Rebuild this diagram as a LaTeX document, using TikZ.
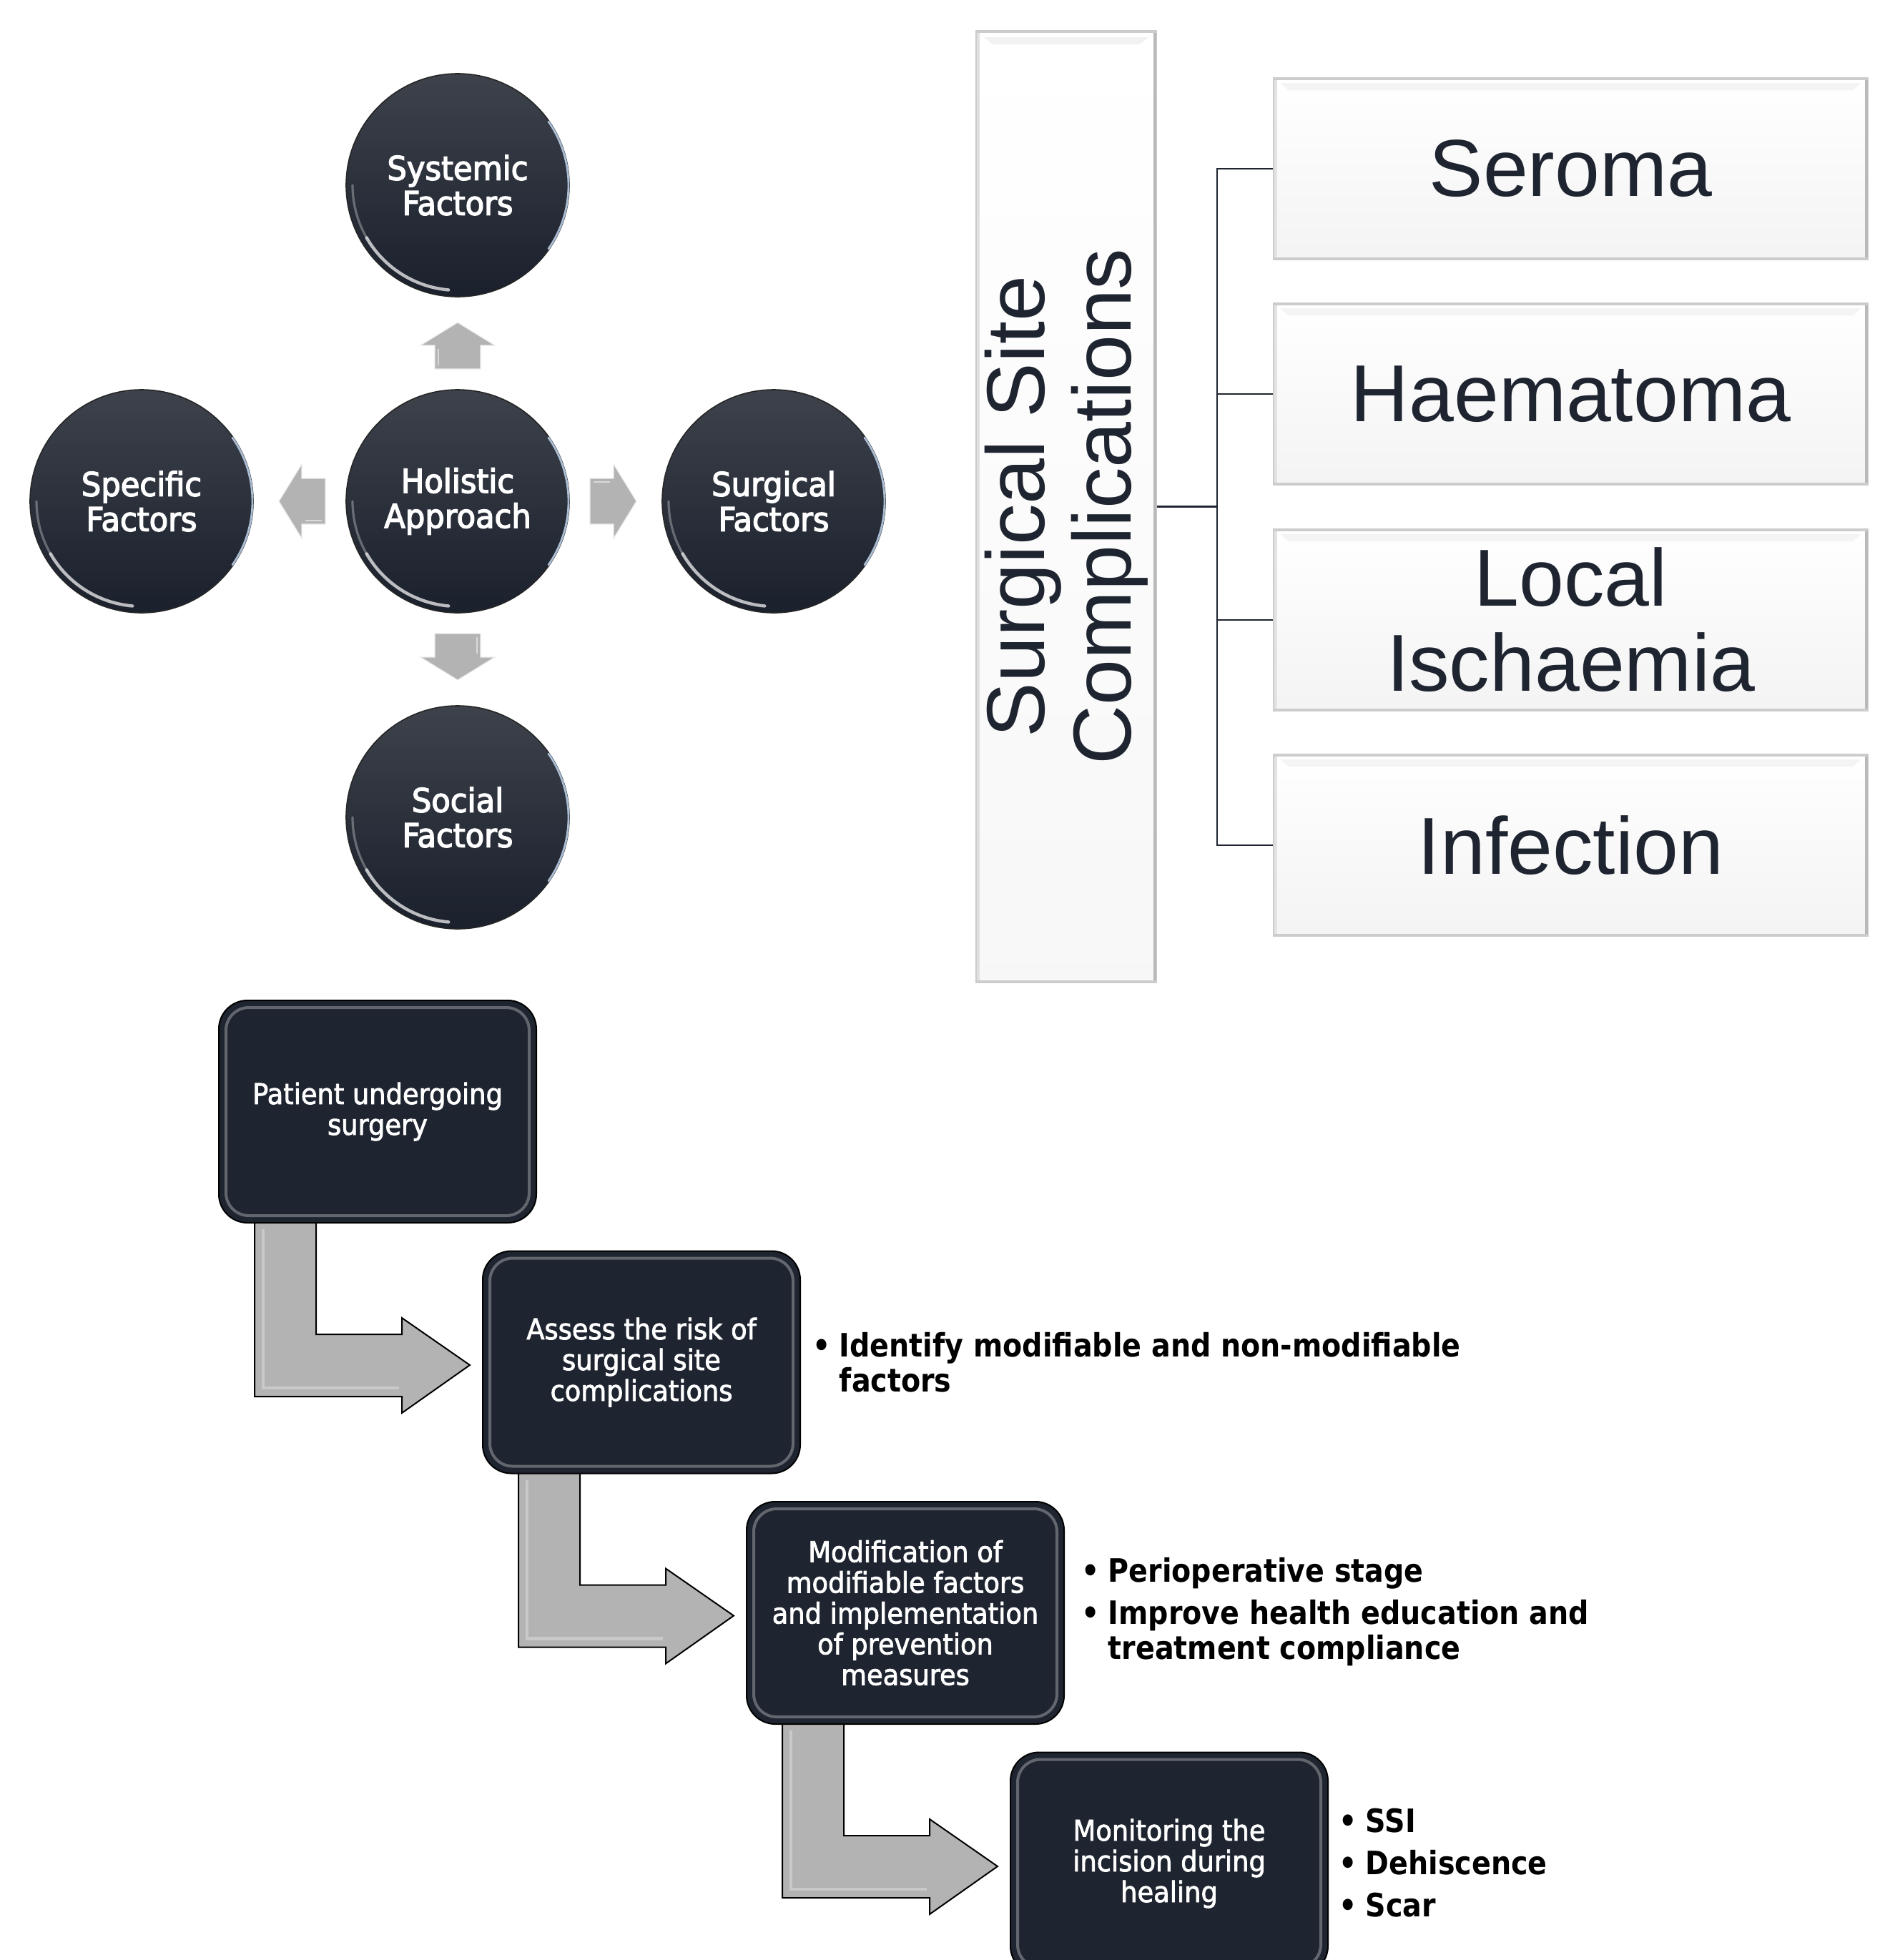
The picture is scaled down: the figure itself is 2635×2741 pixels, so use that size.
\documentclass[tikz,border=0pt]{standalone}
\usepackage{fontspec}
\setmainfont{DejaVu Sans}
\newfontfamily\circfont[FakeStretch=0.94,FakeBold=3]{DejaVu Sans}
\newfontfamily\boxfont[FakeStretch=0.92,FakeBold=2]{DejaVu Sans}
\newfontfamily\bulfont[FakeStretch=0.88]{DejaVu Sans}
\newfontfamily\arialfont{Liberation Sans}
\usetikzlibrary{calc,backgrounds}
\definecolor{navy}{HTML}{1E2430}
\definecolor{circtop}{HTML}{3D424B}
\definecolor{circbot}{HTML}{1A202C}
\definecolor{flowfill}{HTML}{1F2530}
\definecolor{arrowgray}{HTML}{B3B3B3}
\definecolor{hiblue}{HTML}{A9BCD2}
\tikzset{
  circ/.style={circle, minimum size=78pt, inner sep=0pt, text=white, align=center,
    top color=circtop, bottom color=circbot, draw=black!85, line width=0.4pt,
    font=\circfont\fontsize{11.5}{12.25}\selectfont},
  vrect/.style={rectangle, minimum width=62.5pt, minimum height=332.25pt, inner sep=0pt,
    top color=white, bottom color=gray!6, draw=gray!40, line width=1pt},
  cbox/.style={rectangle, minimum width=207.25pt, minimum height=63pt, inner sep=0pt,
    top color=white, bottom color=gray!9, draw=gray!40, line width=1pt, text=navy,
    align=center, font=\arialfont\fontsize{28.25}{29.75}\selectfont},
  vtext/.style={rotate=90, align=center, text=navy, inner sep=0pt,
    font=\arialfont\fontsize{28.75}{30.25}\selectfont},
  conn/.style={draw=navy, line width=0.6pt},
  fbox/.style={rectangle, rounded corners=10pt, minimum width=111pt, minimum height=77.75pt,
    inner sep=0pt, fill=flowfill, draw=black, line width=0.5pt, text=white, align=center,
    font=\boxfont\fontsize{10}{10.75}\selectfont},
  bent/.style={fill=arrowgray, draw=black, line width=0.5pt, line join=miter},
  blockarr/.style={fill=arrowgray, draw=white!85!gray, line width=0.3pt},
  bul/.style={anchor=west, align=left, inner sep=0pt, text=black,
    font=\bulfont\bfseries\fontsize{11.25}{12.25}\selectfont},
}
\newcommand{\bulmark}{\llap{\textbullet\hspace{3pt}}}
\begin{document}
\begin{tikzpicture}[x=0.25pt,y=-0.25pt]
\useasboundingbox (0,0) rectangle (2635,2741);
\begin{pgfonlayer}{background}
\fill[white] (0,0) rectangle (2635,2741);
\end{pgfonlayer}
\clip (0,0) rectangle (2635,2741);

% ---------- circles ----------
\node[circ] (sys) at (640,259) {Systemic\\Factors};
\node[circ] (hol) at (640,701) {Holistic\\Approach};
\node[circ] (spe) at (198,701) {Specific\\Factors};
\node[circ] (sur) at (1082,701) {Surgical\\Factors};
\node[circ] (soc) at (640,1143) {Social\\Factors};
\foreach \n in {sys,hol,spe,sur,soc}{
  \draw[white, opacity=0.7, line width=1.1pt, line cap=round]
    (\n.center) ++(95:147) arc[start angle=95, end angle=150, radius=147];
  \draw[white, opacity=0.3, line width=0.8pt, line cap=round]
    (\n.center) ++(150:147) arc[start angle=150, end angle=180, radius=147];
  \draw[hiblue, line width=0.7pt, line cap=round]
    (\n.center) ++(-35:155) arc[start angle=-35, end angle=35, radius=155];
}
\foreach \ang in {0,90,180,270}{
  \begin{scope}[shift={(hol.center)}, rotate=\ang]
    \path[blockarr] (185,-32) -- (218,-32) -- (218,-52) -- (250,0) -- (218,52)
      -- (218,32) -- (185,32) -- cycle;
    \draw[white, opacity=0.5, line width=0.6pt] (190,-27) -- (213,-27);
  \end{scope}
}

% ---------- surgical site complications ----------
\node[vrect] (ssc) at (1491,708.5) {};
\fill[gray!10] ($(ssc.north west)+(12,10)$) -- ($(ssc.north east)+(-12,10)$)
  -- ($(ssc.north east)+(-24,20)$) -- ($(ssc.north west)+(24,20)$) -- cycle;
\draw[gray!55, line width=1pt] ($(ssc.north east)+(-3,4)$) -- ($(ssc.south east)+(-3,-4)$);
\draw[gray!25, line width=1pt] ($(ssc.north west)+(4,4)$) -- ($(ssc.south west)+(4,-4)$);
\node[vtext] (ssct) at (ssc.center) {Surgical Site\\Complications};

\node[cbox] (ser) at (2196.5,236) {Seroma};
\node[cbox] (hae) at (2196.5,551) {Haematoma};
\node[cbox] (isc) at (2196.5,867) {Local\\Ischaemia};
\node[cbox] (inf) at (2196.5,1182) {Infection};
\foreach \n in {ser,hae,isc,inf}{
  \fill[gray!9] ($(\n.north west)+(10,8)$) -- ($(\n.north east)+(-10,8)$)
    -- ($(\n.north east)+(-22,18)$) -- ($(\n.north west)+(22,18)$) -- cycle;
  \draw[gray!55, line width=1pt] ($(\n.north east)+(-3,4)$) -- ($(\n.south east)+(-3,-4)$);
  \draw[gray!22, line width=1pt] ($(\n.north west)+(4,4)$) -- ($(\n.south west)+(4,-4)$);
}
\draw[conn] (ssc.east) -- ++(84,0) coordinate (bus);
\foreach \n in {ser,hae,isc,inf}{
  \draw[conn] (bus) |- (\n.west);
}

% ---------- flowchart ----------
\node[fbox] (b1) at (528,1554.5) {Patient undergoing\\surgery};
\node[fbox] (b2) at (897,1905) {Assess the risk of\\surgical site\\complications};
\node[fbox] (b3) at (1266,2255.5) {Modification of\\modifiable factors\\and implementation\\of prevention\\measures};
\node[fbox] (b4) at (1635,2606) {Monitoring the\\incision during\\healing};
\foreach \n in {b1,b2,b3,b4}{
  \draw[white, opacity=0.3, line width=1pt, rounded corners=8pt]
    ($(\n.north west)+(11,11)$) rectangle ($(\n.south east)+(-11,-11)$);
}

\begin{pgfonlayer}{background}
\foreach \a/\b in {b1/b2,b2/b3,b3/b4}{
  \coordinate (A) at ($(\a.south west)+(51,-6)$);
  \coordinate (B) at ($(\a.south west)+(137,-6)$);
  \coordinate (D) at ($(\b.west)+(-112,-39)$);
  \coordinate (E) at ($(\b.west)+(-112,-62)$);
  \coordinate (F) at ($(\b.west)+(-17,4)$);
  \coordinate (G) at ($(\b.west)+(-112,71)$);
  \coordinate (H) at ($(\b.west)+(-112,48)$);
  \draw[bent] (A) -- (B) -- (B |- D) -- (D) -- (E) -- (F) -- (G) -- (H) -- (A |- H) -- cycle;
  \draw[white, opacity=0.3, line width=1.2pt]
    ($(A)+(12,14)$) -- ($(A |- H)+(12,-12)$) -- ($(H)+(-4,-12)$);
}
\end{pgfonlayer}

% ---------- bullet texts ----------
\node[bul] (t2) at (1173,1905) {\bulmark Identify modifiable and non-modifiable\\factors};
\node[bul] (t3) at (1549,2254) {\bulmark Perioperative stage\\[2.5pt]\bulmark Improve health education and\\treatment compliance};
\node[bul] (t4) at (1909,2605) {\bulmark SSI\\[2.5pt]\bulmark Dehiscence\\[2.5pt]\bulmark Scar};
\end{tikzpicture}
\end{document}
